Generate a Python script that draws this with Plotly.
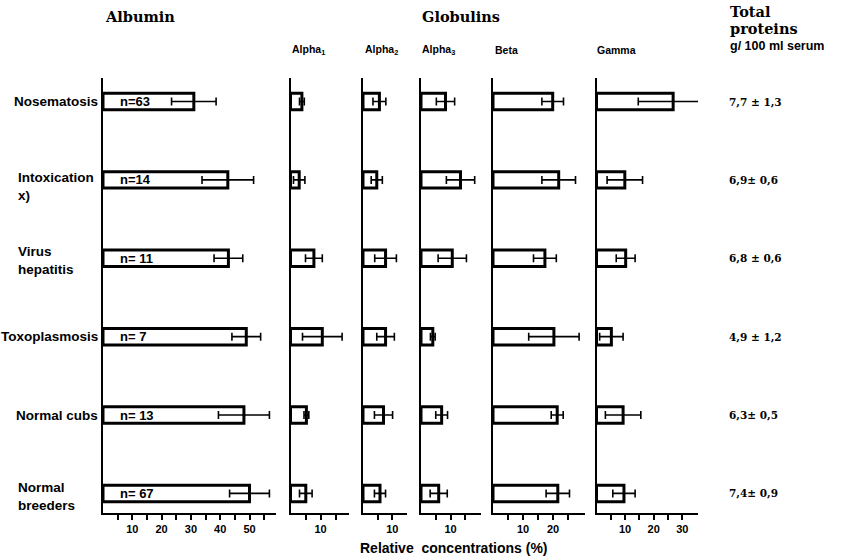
import plotly.graph_objects as go

# ---------------- data ----------------
categories = ["Nosematosis", "Intoxication<br>x)", "Virus<br>hepatitis",
              "Toxoplasmosis", "Normal cubs", "Normal<br>breeders"]
n_labels = ["n=63", "n=14", "n= 11", "n= 7", "n= 13", "n= 67"]

albumin = [31.0, 42.6, 42.8, 48.9, 48.1, 50.0]
albumin_sd = [7.6, 8.8, 4.9, 4.9, 8.7, 6.8]
alpha1 = [3.8, 2.9, 7.8, 10.6, 5.3, 5.1]
alpha1_sd = [0.8, 1.9, 2.8, 6.6, 0.8, 2.1]
alpha2 = [5.6, 4.7, 7.7, 7.7, 7.0, 5.8]
alpha2_sd = [2.2, 1.9, 3.7, 3.0, 3.1, 1.9]
alpha3 = [8.3, 13.4, 10.6, 4.0, 7.0, 6.0]
alpha3_sd = [3.1, 4.8, 4.8, 0.8, 2.0, 2.9]
beta = [19.9, 21.9, 17.3, 20.3, 21.4, 21.6]
beta_sd = [3.6, 5.6, 3.8, 8.4, 2.0, 3.9]
gamma = [26.8, 9.9, 10.2, 5.2, 9.3, 9.6]
gamma_sd = [12.2, 6.2, 3.3, 4.1, 6.2, 3.9]

total_proteins = ["7,7 ± 1,3", "6,9± 0,6", "6,8 ± 0,6", "4,9 ± 1,2", "6,3± 0,5", "7,4± 0,9"]

panel_names = ["Alpha", "Alpha", "Alpha", "Beta", "Gamma"]
panel_subs = ["1", "2", "3", "", ""]
major_ticks = {
    "albumin": [10, 20, 30, 40, 50],
    "alpha1": [10],
    "alpha2": [10],
    "alpha3": [10],
    "beta": [10, 20],
    "gamma": [10, 20, 30],
}
minor_ticks = {
    "albumin": [5, 15, 25, 35, 45, 55],
    "alpha1": [5, 15],
    "alpha2": [5],
    "alpha3": [5, 15],
    "beta": [5, 15, 25],
    "gamma": [5, 15, 25],
}

# ---------------- layout geometry ----------------
W, H = 844, 558
y_top_px, y_bot_px = 78, 513
# (left origin px, px per unit, range max)
panels = [
    ("albumin", albumin, albumin_sd, 103.0, 2.93, 59.0),
    ("alpha1", alpha1, alpha1_sd, 290.5, 3.0, 19.5),
    ("alpha2", alpha2, alpha2_sd, 363.0, 2.93, 15.0),
    ("alpha3", alpha3, alpha3_sd, 421.0, 2.95, 20.5),
    ("beta", beta, beta_sd, 493.0, 3.0, 30.5),
    ("gamma", gamma, gamma_sd, 596.5, 2.86, 35.5),
]

SANS = "Liberation Sans, Arial, Helvetica, sans-serif"
SERIF = "DejaVu Serif, serif"

yidx = list(range(len(categories)))
yrange = [5.25, -0.30]
ydom = [(H - y_bot_px) / H, (H - y_top_px) / H]

fig = go.Figure()
layout = dict(
    width=W, height=H, margin=dict(l=0, r=0, t=0, b=0),
    plot_bgcolor="white", paper_bgcolor="white", showlegend=False,
)

for k, (name, vals, sd, x0, ppu, rmax) in enumerate(panels):
    sfx = "" if k == 0 else str(k + 1)
    fig.add_trace(go.Bar(
        x=vals, y=yidx, orientation="h", width=0.21,
        marker=dict(color="white", line=dict(color="black", width=3)),
        error_x=dict(type="data", array=sd, color="black", thickness=1.6, width=4),
        xaxis="x" + sfx, yaxis="y" + sfx, hoverinfo="skip",
    ))
    x1 = x0 + rmax * ppu
    layout["xaxis" + sfx] = dict(
        domain=[x0 / W, x1 / W], range=[0, rmax], anchor="y" + sfx,
        showline=True, linecolor="black", linewidth=2, showgrid=False, zeroline=False,
        ticks="outside", ticklen=5, tickwidth=2, tickcolor="black",
        tickvals=major_ticks[name],
        minor=dict(tickvals=minor_ticks[name], ticks="outside", ticklen=5,
                   tickwidth=2, tickcolor="black", showgrid=False),
        tickfont=dict(family=SANS, size=11, color="black", weight="bold"),
    )
    layout["yaxis" + sfx] = dict(
        domain=ydom, range=yrange, anchor="x" + sfx,
        showline=True, linecolor="black", linewidth=2, showgrid=False, zeroline=False,
        showticklabels=False, ticks="",
    )

fig.update_layout(**layout)

ann = []
def px(x):
    return x / W
def py(y):
    return 1 - y / H

# headers
for txt, x, y in [("Albumin", 103, 16), ("Globulins", 420, 16), ("Total", 728, 12), ("proteins", 728, 28)]:
    ann.append(dict(text=txt, x=px(x), y=py(y), xref="paper", yref="paper",
                    xanchor="left", yanchor="middle", showarrow=False,
                    font=dict(family=SERIF, size=14.5, color="black", weight="bold")))
ann.append(dict(text="g/ 100 ml serum", x=px(728), y=py(46), xref="paper", yref="paper",
                xanchor="left", yanchor="middle", showarrow=False,
                font=dict(family=SANS, size=12.5, color="black", weight="bold")))

# globulin sub-headers
for nm, sb, x in zip(panel_names, panel_subs, [290, 362.5, 420, 493, 595]):
    txt = nm + (f"<sub>{sb}</sub>" if sb else "")
    ann.append(dict(text=txt, x=px(x), y=py(50), xref="paper", yref="paper",
                    xanchor="left", yanchor="middle", showarrow=False,
                    font=dict(family=SANS, size=10.5, color="black", weight="bold")))

# category labels
shifts = [0, -7, -2.5, 0, 0, -3]
for i, c in enumerate(categories):
    multi = "<br>" in c
    ann.append(dict(text=c, x=px(16) if multi else px(100), y=i, xref="paper", yref="y",
                    xanchor="left" if multi else "right", yanchor="middle",
                    align="left", showarrow=False, yshift=shifts[i],
                    font=dict(family=SANS, size=13.5, color="black", weight="bold")))
    # n labels inside albumin bars
    ann.append(dict(text=n_labels[i], x=5, y=i, xref="x", yref="y",
                    xanchor="left", yanchor="middle", showarrow=False,
                    font=dict(family=SANS, size=13, color="black", weight="bold")))
    # total proteins
    ann.append(dict(text=total_proteins[i], x=px(727), y=i, xref="paper", yref="y",
                    xanchor="left", yanchor="middle", showarrow=False,
                    font=dict(family=SERIF, size=10.5, color="black", weight="bold")))

ann.append(dict(text="Relative  concentrations (%)", x=px(454), y=py(548), xref="paper", yref="paper",
                xanchor="center", yanchor="middle", showarrow=False,
                font=dict(family=SANS, size=14, color="black", weight="bold")))

fig.update_layout(annotations=ann)
fig.write_html("out.html", config={"displayModeBar": False},
               post_script="document.body.style.margin='0';document.body.style.overflow='hidden';")
